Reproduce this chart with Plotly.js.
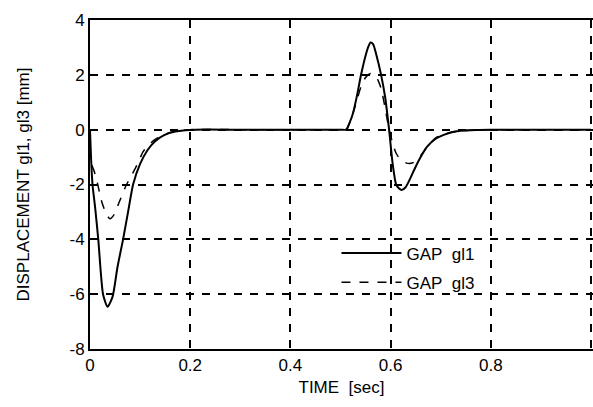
<!DOCTYPE html>
<html>
<head>
<meta charset="utf-8">
<script src="https://cdn.plot.ly/plotly-3.0.1.min.js"></script>
<style>html,body{margin:0;padding:0;background:#fff;}#chart{width:593px;height:407px;}</style>
</head>
<body>
<div id="chart"></div>
<script>
// GAP gl1 (solid)
const timeGl1 = [0, 0.002, 0.005, 0.01, 0.0165, 0.026, 0.035, 0.045, 0.055, 0.066, 0.076, 0.086, 0.1, 0.115, 0.13, 0.149, 0.17, 0.19, 0.21,
  0.3, 0.4, 0.5, 0.511, 0.518, 0.525, 0.533, 0.541, 0.55, 0.556, 0.56, 0.565, 0.572, 0.581, 0.589, 0.597, 0.604, 0.611, 0.617, 0.622, 0.63, 0.64, 0.647, 0.66, 0.673, 0.69, 0.706, 0.72, 0.74, 0.77, 0.8, 0.9, 1.0];
const gapGl1 = [0, -1.0, -2.0, -2.8, -4.0, -6.0, -6.46, -6.1, -5.0, -4.0, -3.0, -2.0, -1.25, -0.74, -0.42, -0.19, -0.07, -0.02, 0,
  0, 0, 0, 0, 0.25, 0.6, 1.25, 2.0, 2.7, 3.05, 3.18, 3.12, 2.7, 2.0, 1.2, 0, -1.23, -2.0, -2.15, -2.2, -2.1, -1.75, -1.47, -1.0, -0.62, -0.33, -0.19, -0.1, -0.04, -0.01, 0, 0, 0];
// GAP gl3 (dashed)
const timeGl3 = [0, 0.002, 0.008, 0.013, 0.023, 0.033, 0.04, 0.048, 0.056, 0.073, 0.085, 0.096, 0.106, 0.115, 0.13, 0.15, 0.17, 0.2,
  0.3, 0.4, 0.5, 0.512, 0.518, 0.53, 0.541, 0.55, 0.56, 0.568, 0.575, 0.581, 0.59, 0.597, 0.605, 0.611, 0.62, 0.632, 0.645, 0.66, 0.673, 0.69, 0.706, 0.72, 0.74, 0.77, 0.8, 0.9, 1.0];
const gapGl3 = [0, -1.2, -1.5, -1.8, -2.6, -3.1, -3.25, -3.1, -2.75, -2.0, -1.6, -1.2, -0.8, -0.6, -0.35, -0.17, -0.06, 0,
  0, 0, 0, 0, 0.23, 0.9, 1.57, 1.9, 2.05, 2.0, 1.8, 1.5, 0.7, 0, -0.55, -0.86, -1.1, -1.22, -1.2, -0.95, -0.62, -0.3, -0.17, -0.1, -0.04, -0.01, 0, 0, 0];
const xTicks = [0, 0.2, 0.4, 0.6, 0.8, 1];
const xTickText = ['0', '0.2', '0.4', '0.6', '0.8', '1'];
const yTicks = [-8, -6, -4, -2, 0, 2, 4];
const yTickText = ['-8', '-6', '-4', '-2', '0', '2', '4'];

const font = {family: 'Liberation Sans, Arial, sans-serif', size: 17, color: '#000'};

const traces = [
  {x: timeGl1, y: gapGl1, mode: 'lines', name: 'GAP\u00a0 gl1', legendgroup: 'a',
   line: {color: '#000', width: 2, shape: 'spline', smoothing: 0.6}},
  {x: timeGl3, y: gapGl3, mode: 'lines', name: 'GAP\u00a0 gl3', legendgroup: 'b',
   line: {color: '#000', width: 1.5, dash: 'dash', shape: 'spline', smoothing: 0.6}}
];

const layout = {
  width: 593, height: 407,
  margin: {l: 90, r: 0, t: 20, b: 58},
  paper_bgcolor: '#fff', plot_bgcolor: '#fff',
  font: font,
  showlegend: true,
  legend: {x: 0.49, y: 0.345, xanchor: 'left', yanchor: 'top', bgcolor: 'rgba(0,0,0,0)',
           font: font, tracegroupgap: 4, itemwidth: 60},
  xaxis: {range: [0, 1.004], tickvals: xTicks, ticktext: xTickText, showgrid: true,
          gridcolor: '#000', gridwidth: 2, griddash: '8px,8px', zeroline: false,
          showline: true, linecolor: '#000', linewidth: 2, mirror: true, ticks: '',
          tickfont: font, title: {text: 'TIME\u00a0 [sec]', font: font, standoff: 7}},
  yaxis: {range: [-8, 4], tickvals: yTicks, ticktext: yTickText, showgrid: true,
          gridcolor: '#000', gridwidth: 2, griddash: '8px,8px', zeroline: false,
          showline: true, linecolor: '#000', linewidth: 2, ticks: '',
          tickfont: font, title: {text: 'DISPLACEMENT gl1, gl3 [mm]', font: font, standoff: 36}}
};

Plotly.newPlot('chart', traces, layout, {staticPlot: true, displayModeBar: false});
</script>
</body>
</html>
